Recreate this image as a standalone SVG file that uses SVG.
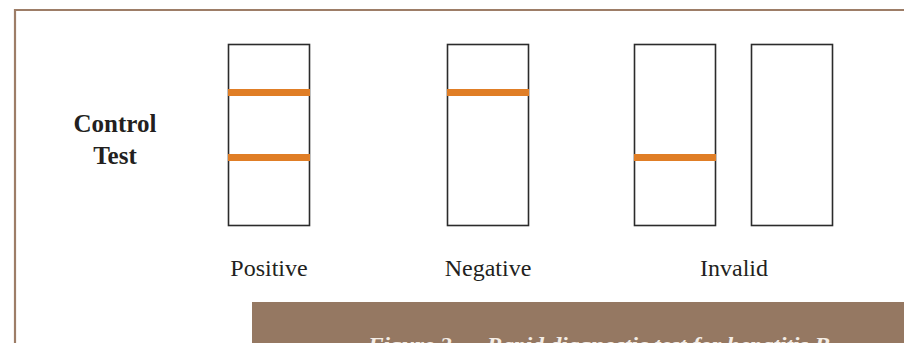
<svg xmlns="http://www.w3.org/2000/svg" width="904" height="343" viewBox="0 0 904 343">
<style>
.strip{fill:#fff;stroke:#2b2b2b;stroke-width:1.6}
.band{fill:#e07e26}
.lbl{font-family:"Liberation Serif",serif;font-size:24px;fill:#231f20;text-anchor:middle}
.key{font-family:"Liberation Serif",serif;font-size:25px;font-weight:bold;fill:#231f20;text-anchor:middle}
.cap{font-family:"Liberation Serif",serif;font-size:22px;font-style:italic;font-weight:bold;fill:#f4ede6}
</style>
<rect x="0" y="0" width="904" height="343" fill="#fff"/>
<g id="frame">
<path d="M15,343 V10 H904" fill="none" stroke="#9d7d67" stroke-width="2.2"/>
</g>
<g id="legend">
<text class="key" x="115" y="132">Control</text>
<text class="key" x="115" y="164">Test</text>
</g>
<g id="positive">
<rect class="strip" x="228.5" y="44.5" width="81" height="181"/>
<rect class="band" x="228" y="89" width="82" height="7"/>
<rect class="band" x="228" y="154" width="82" height="7"/>
<text class="lbl" x="269" y="276">Positive</text>
</g>
<g id="negative">
<rect class="strip" x="447.5" y="44.5" width="81" height="181"/>
<rect class="band" x="447" y="89" width="82" height="7"/>
<text class="lbl" x="488" y="276">Negative</text>
</g>
<g id="invalid">
<rect class="strip" x="634.5" y="44.5" width="81" height="181"/>
<rect class="band" x="634" y="154" width="82" height="7"/>
<rect class="strip" x="751.5" y="44.5" width="81" height="181"/>
<text class="lbl" x="734" y="276">Invalid</text>
</g>
<g id="connectors"></g>
<g id="caption">
<rect x="252" y="302" width="652" height="41" fill="#957862"/>
<text class="cap" x="368" y="352" textLength="462" lengthAdjust="spacingAndGlyphs">Figure 2 — Rapid diagnostic test for hepatitis B</text>
</g>
</svg>
